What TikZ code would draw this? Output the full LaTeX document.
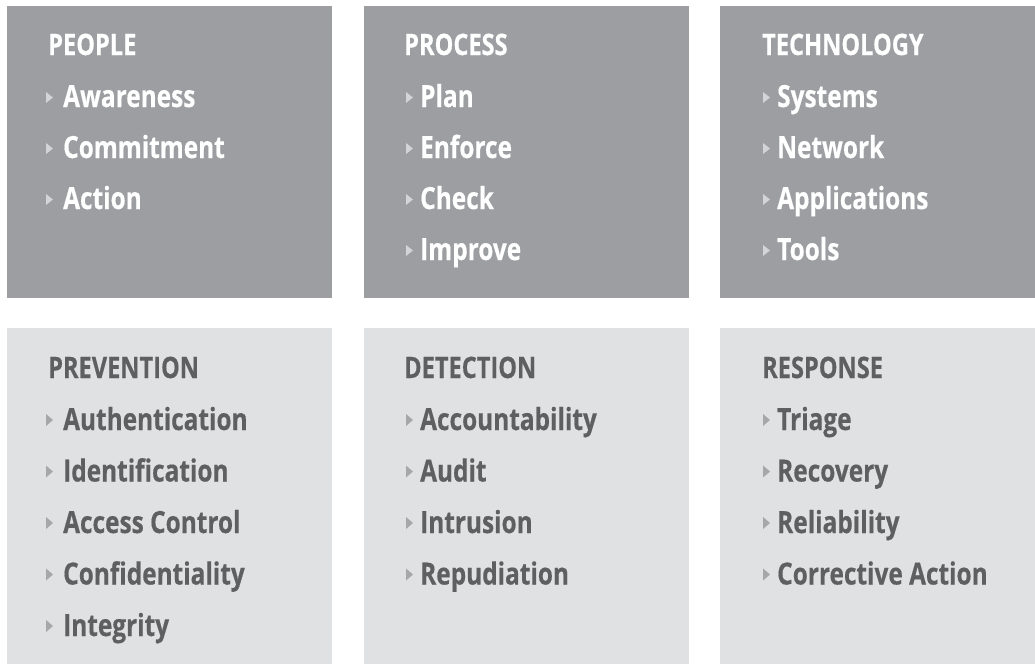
\documentclass[tikz,border=0pt]{standalone}
\usepackage{fontspec}
\newfontfamily\cnd{Open Sans}[FakeStretch=0.80,FakeBold=0.4]
\definecolor{topbg}{HTML}{9D9EA2}
\definecolor{botbg}{HTML}{E0E1E3}
\definecolor{topbul}{HTML}{D3D4D6}
\definecolor{botbul}{HTML}{A6A7A9}
\definecolor{bottxt}{HTML}{5E5F61}
\tikzset{
  panel/.style={fill=#1, draw=none, inner sep=0pt, anchor=north west},
  head/.style={text=#1, anchor=base west, inner sep=0pt, font=\cnd\bfseries\fontsize{29.5}{32}\selectfont},
  itm/.style={text=#1, anchor=base west, inner sep=0pt, font=\cnd\bfseries\fontsize{30.5}{33}\selectfont},
}
\begin{document}
\begin{tikzpicture}[x=1pt,y=-1pt]
\useasboundingbox (0,0) rectangle (1035,664);
% panels
\node[panel=topbg, minimum width=325pt, minimum height=292pt] (p1) at (7,6) {};
\node[panel=topbg, minimum width=325pt, minimum height=292pt] (p2) at (364,6) {};
\node[panel=topbg, minimum width=315pt, minimum height=292pt] (p3) at (720,6) {};
\node[panel=botbg, minimum width=325pt, minimum height=336pt] (q1) at (7,328) {};
\node[panel=botbg, minimum width=325pt, minimum height=336pt] (q2) at (364,328) {};
\node[panel=botbg, minimum width=315pt, minimum height=336pt] (q3) at (720,328) {};
% headings
\node[head=white] (h1) at (48,55) {PEOPLE};
\node[head=white] (h2) at (404,55) {PROCESS};
\node[head=white] (h3) at (762,55) {TECHNOLOGY};
\node[head=bottxt] (g1) at (48,378) {PREVENTION};
\node[head=bottxt] (g2) at (404,378) {DETECTION};
\node[head=bottxt] (g3) at (762,378) {RESPONSE};
% items top
\foreach \t [count=\i] in {Awareness,Commitment,Action}{
  \pgfmathsetmacro\b{107+51*(\i-1)}
  \fill[topbul] (46,\b-15) -- (46,\b-4) -- (53,\b-9.5) -- cycle;
  \node[itm=white] (a\i) at (63,\b) {\t};
}
\foreach \t [count=\i] in {Plan,Enforce,Check,Improve}{
  \pgfmathsetmacro\b{107+51*(\i-1)}
  \fill[topbul] (406,\b-15) -- (406,\b-4) -- (413,\b-9.5) -- cycle;
  \node[itm=white] (b\i) at (420,\b) {\t};
}
\foreach \t [count=\i] in {Systems,Network,Applications,Tools}{
  \pgfmathsetmacro\b{107+51*(\i-1)}
  \fill[topbul] (763,\b-15) -- (763,\b-4) -- (770,\b-9.5) -- cycle;
  \node[itm=white] (c\i) at (777,\b) {\t};
}
% items bottom
\foreach \t [count=\i] in {Authentication,Identification,Access Control,Confidentiality,Integrity}{
  \pgfmathsetmacro\b{430+51.5*(\i-1)}
  \fill[botbul] (46,\b-16) -- (46,\b-4) -- (53,\b-10) -- cycle;
  \node[itm=bottxt] (d\i) at (63,\b) {\t};
}
\foreach \t [count=\i] in {Accountability,Audit,Intrusion,Repudiation}{
  \pgfmathsetmacro\b{430+51.5*(\i-1)}
  \fill[botbul] (406,\b-16) -- (406,\b-4) -- (413,\b-10) -- cycle;
  \node[itm=bottxt] (e\i) at (420,\b) {\t};
}
\foreach \t [count=\i] in {Triage,Recovery,Reliability,Corrective Action}{
  \pgfmathsetmacro\b{430+51.5*(\i-1)}
  \fill[botbul] (763,\b-16) -- (763,\b-4) -- (770,\b-10) -- cycle;
  \node[itm=bottxt] (f\i) at (777,\b) {\t};
}
\end{tikzpicture}
\end{document}
